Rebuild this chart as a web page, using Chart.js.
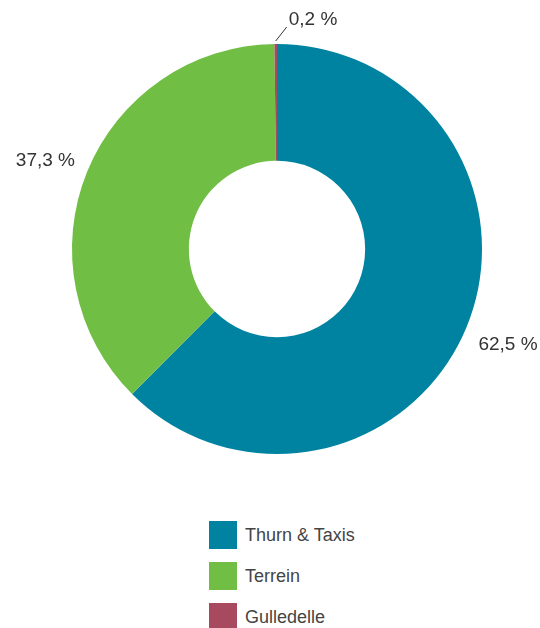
<!DOCTYPE html>
<html>
<head>
<meta charset="utf-8">
<script src="https://cdn.jsdelivr.net/npm/chart.js@4/dist/chart.umd.min.js"></script>
<style>
    body { margin: 0; background: #fff; font-family: "Liberation Sans", Arial, sans-serif; }
    #wrap { position: relative; width: 540px; height: 628px; overflow: hidden; }
    #taart { position: absolute; left: 0; top: 0; }
    #legende { position: absolute; left: 209px; top: 521px; }
    .item { display: flex; align-items: center; height: 28px; margin-bottom: 13px; color: #444; font-size: 18px; }
    .box { width: 28px; height: 28px; margin-right: 8px; }
</style>
</head>
<body>
<div id="wrap">
    <canvas id="taart" width="540" height="500"></canvas>
    <div id="legende"></div>
</div>
<script>
// data
const labels = ["Thurn & Taxis", "Terrein", "Gulledelle"];
const values = [62.5, 37.3, 0.2];
const valueLabels = ["62,5 %", "37,3 %", "0,2 %"];
const colors = ["#0083a1", "#70bf44", "#a84a5f"];

// labels buiten de ring tekenen
const outerLabels = {
    id: "outerLabels",
    afterDatasetsDraw(chart) {
        const ctx = chart.ctx;
        const meta = chart.getDatasetMeta(0);
        ctx.save();
        ctx.font = "19px 'Liberation Sans', Arial, sans-serif";
        ctx.fillStyle = "#333";
        ctx.textBaseline = "middle";
        meta.data.forEach((arc, i) => {
            const mid = (arc.startAngle + arc.endAngle) / 2;
            const cos = Math.cos(mid), sin = Math.sin(mid);
            if (values[i] < 1) {
                // klein segment: met lijntje
                const x1 = arc.x + cos * (arc.outerRadius + 3);
                const y1 = arc.y + sin * (arc.outerRadius + 3);
                const x2 = x1 + 11, y2 = y1 - 14;
                ctx.strokeStyle = "#333";
                ctx.lineWidth = 1;
                ctx.beginPath();
                ctx.moveTo(x1, y1);
                ctx.lineTo(x2, y2);
                ctx.stroke();
                ctx.textAlign = "left";
                ctx.fillText(valueLabels[i], x2 + 2, y2 - 7);
            } else {
                const r = arc.outerRadius + 45;
                ctx.textAlign = "center";
                // linkse labels iets lager, zoals in het origineel
                const dy = cos < 0 ? 6 : 0;
                ctx.fillText(valueLabels[i], arc.x + cos * r, arc.y + sin * r + dy);
            }
        });
        ctx.restore();
    }
};

new Chart(document.getElementById("taart"), {
    type: "doughnut",
    data: {
        labels,
        datasets: [{ data: values, backgroundColor: colors, borderWidth: 0 }]
    },
    options: {
        responsive: false,
        animation: false,
        cutout: "43%",
        layout: { padding: { left: 72, right: 58, top: 44, bottom: 46 } },
        plugins: {
            legend: { display: false },
            tooltip: { enabled: false }
        }
    },
    plugins: [outerLabels]
});

// legende
const legende = document.getElementById("legende");
labels.forEach((l, i) => {
    legende.innerHTML += `<div class="item"><span class="box" style="background:${colors[i]}"></span>${l}</div>`;
});
</script>
</body>
</html>
